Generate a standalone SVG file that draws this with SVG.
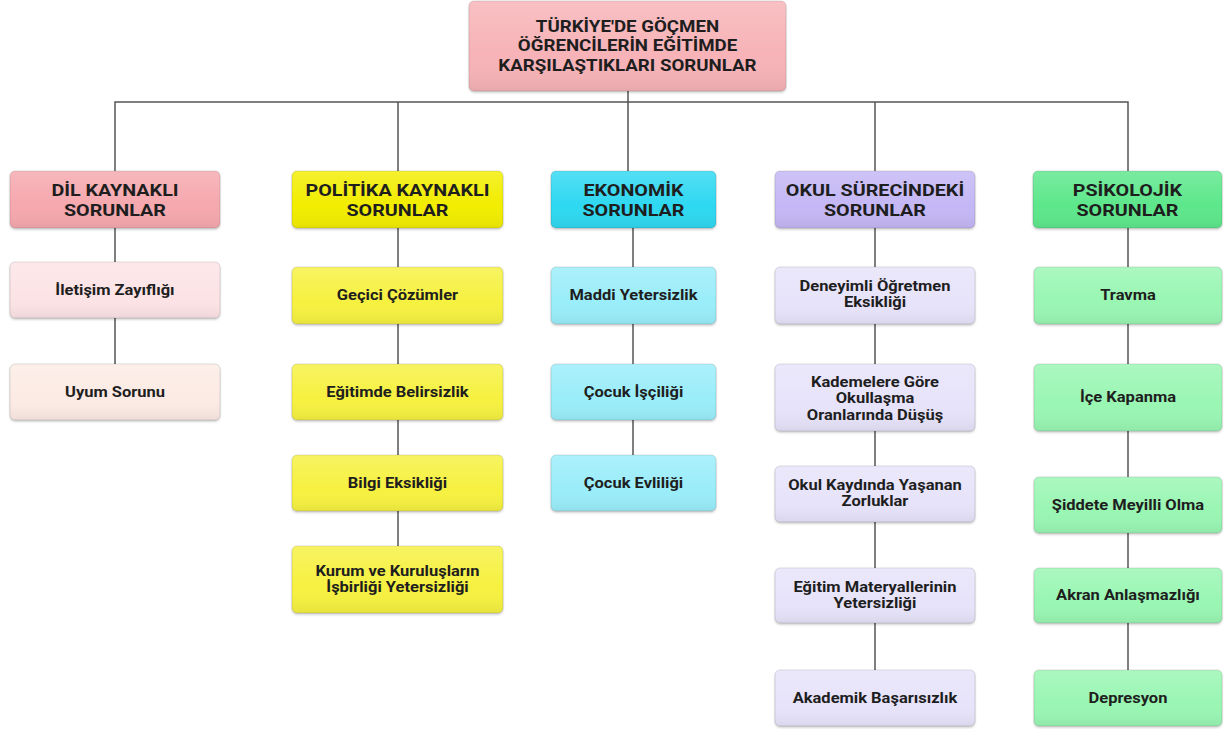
<svg xmlns="http://www.w3.org/2000/svg" width="1231" height="729" viewBox="0 0 1231 729">
<defs>
  <filter id="sh" x="-10%" y="-20%" width="120%" height="150%">
    <feDropShadow dx="0" dy="1.5" stdDeviation="1.2" flood-color="#000" flood-opacity="0.22"/>
  </filter>
  <linearGradient id="sheen" x1="0" y1="0" x2="0" y2="1">
    <stop offset="0" stop-color="#fff" stop-opacity="0.18"/>
    <stop offset="0.6" stop-color="#fff" stop-opacity="0"/>
    <stop offset="1" stop-color="#000" stop-opacity="0.06"/>
  </linearGradient>
</defs>
<style>
  .box { stroke: rgba(0,0,0,0.12); stroke-width: 1; filter: url(#sh); }
  .sheen { fill: url(#sheen); stroke: none; }
  text { font-family: Roboto, "Liberation Sans", sans-serif; font-weight: 700; fill: #1e1e1e; text-anchor: middle; transform-box: fill-box; transform-origin: center; transform: scaleX(1.1); }
  .t0 { font-size: 17px; }
  .t1 { font-size: 17px; transform: scaleX(1.16); }
  .t2 { font-size: 15px; }
  .c-title { fill: #F7B3B7; }
  .c-dil { fill: #F5A8AE; }
  .c-dil1 { fill: #FCE3E6; }
  .c-dil2 { fill: #FCEBE4; }
  .c-pol { fill: #F2ED00; }
  .c-pol1 { fill: #F6F140; }
  .c-eko { fill: #2ED8F1; }
  .c-eko1 { fill: #9AEDFA; }
  .c-okul { fill: #C4B7F5; }
  .c-okul1 { fill: #E7E3FA; }
  .c-psi { fill: #5DE78B; }
  .c-psi1 { fill: #99F6B3; }
  .conn { stroke: #555; stroke-width: 1.5; fill: none; }
</style>
<rect width="1231" height="729" fill="#fff"/>

<g id="connectors">
  <path class="conn" d="M628 91 V102"/>
  <path class="conn" d="M115 171 V102 H1128 V171"/>
  <path class="conn" d="M398 102 V171"/>
  <path class="conn" d="M628 102 V171"/>
  <path class="conn" d="M875 102 V171"/>
  <path class="conn" d="M115 228 V262 M115 318 V364"/>
  <path class="conn" d="M398 228 V267 M398 324 V364 M398 420 V455 M398 511 V546"/>
  <path class="conn" d="M633 228 V267 M633 324 V364 M633 420 V455"/>
  <path class="conn" d="M875 228 V267 M875 324 V364 M875 431 V466 M875 522 V568 M875 623 V670"/>
  <path class="conn" d="M1128 228 V267 M1128 324 V364 M1128 431 V477 M1128 533 V568 M1128 623 V670"/>
</g>

<g id="title">
  <rect class="box c-title" x="469" y="1" width="317" height="90" rx="5"/>
  <rect class="sheen" x="469" y="1" width="317" height="90" rx="5"/>
  <text class="t0" x="627.5" y="32">TÜRKİYE'DE GÖÇMEN</text>
  <text class="t0" x="627.5" y="51.5">ÖĞRENCİLERİN EĞİTİMDE</text>
  <text class="t0" x="627.5" y="71">KARŞILAŞTIKLARI SORUNLAR</text>
</g>

<!-- DİL -->
<g id="dil">
  <rect class="box c-dil" x="10" y="171" width="210" height="57" rx="5"/>
  <rect class="sheen" x="10" y="171" width="210" height="57" rx="5"/>
  <text class="t1" x="115" y="196.5">DİL KAYNAKLI</text>
  <text class="t1" x="115" y="216">SORUNLAR</text>
</g>
<g id="dil-iletisim">
  <rect class="box c-dil1" x="10" y="262" width="210" height="56" rx="5"/>
  <rect class="sheen" x="10" y="262" width="210" height="56" rx="5"/>
  <text class="t2" x="115" y="295.5">İletişim Zayıflığı</text>
</g>
<g id="dil-uyum">
  <rect class="box c-dil2" x="10" y="364" width="210" height="56" rx="5"/>
  <rect class="sheen" x="10" y="364" width="210" height="56" rx="5"/>
  <text class="t2" x="115" y="397">Uyum Sorunu</text>
</g>

<!-- POLİTİKA -->
<g id="politika">
  <rect class="box c-pol" x="292" y="171" width="211" height="57" rx="5"/>
  <rect class="sheen" x="292" y="171" width="211" height="57" rx="5"/>
  <text class="t1" x="397.5" y="196.5">POLİTİKA KAYNAKLI</text>
  <text class="t1" x="397.5" y="216">SORUNLAR</text>
</g>
<g id="pol-gecici">
  <rect class="box c-pol1" x="292" y="267" width="211" height="57" rx="5"/>
  <rect class="sheen" x="292" y="267" width="211" height="57" rx="5"/>
  <text class="t2" x="397.5" y="300.5">Geçici Çözümler</text>
</g>
<g id="pol-belirsizlik">
  <rect class="box c-pol1" x="292" y="364" width="211" height="56" rx="5"/>
  <rect class="sheen" x="292" y="364" width="211" height="56" rx="5"/>
  <text class="t2" x="397.5" y="397">Eğitimde Belirsizlik</text>
</g>
<g id="pol-bilgi">
  <rect class="box c-pol1" x="292" y="455" width="211" height="56" rx="5"/>
  <rect class="sheen" x="292" y="455" width="211" height="56" rx="5"/>
  <text class="t2" x="397.5" y="488">Bilgi Eksikliği</text>
</g>
<g id="pol-kurum">
  <rect class="box c-pol1" x="292" y="546" width="211" height="67" rx="5"/>
  <rect class="sheen" x="292" y="546" width="211" height="67" rx="5"/>
  <text class="t2" x="397.5" y="576">Kurum ve Kuruluşların</text>
  <text class="t2" x="397.5" y="592.5">İşbirliği Yetersizliği</text>
</g>

<!-- EKONOMİK -->
<g id="ekonomik">
  <rect class="box c-eko" x="551" y="171" width="165" height="57" rx="5"/>
  <rect class="sheen" x="551" y="171" width="165" height="57" rx="5"/>
  <text class="t1" x="633.5" y="196.5">EKONOMİK</text>
  <text class="t1" x="633.5" y="216">SORUNLAR</text>
</g>
<g id="eko-maddi">
  <rect class="box c-eko1" x="551" y="267" width="165" height="57" rx="5"/>
  <rect class="sheen" x="551" y="267" width="165" height="57" rx="5"/>
  <text class="t2" x="633.5" y="300.5">Maddi Yetersizlik</text>
</g>
<g id="eko-iscilik">
  <rect class="box c-eko1" x="551" y="364" width="165" height="56" rx="5"/>
  <rect class="sheen" x="551" y="364" width="165" height="56" rx="5"/>
  <text class="t2" x="633.5" y="397">Çocuk İşçiliği</text>
</g>
<g id="eko-evlilik">
  <rect class="box c-eko1" x="551" y="455" width="165" height="56" rx="5"/>
  <rect class="sheen" x="551" y="455" width="165" height="56" rx="5"/>
  <text class="t2" x="633.5" y="488">Çocuk Evliliği</text>
</g>

<!-- OKUL -->
<g id="okul">
  <rect class="box c-okul" x="775" y="171" width="200" height="57" rx="5"/>
  <rect class="sheen" x="775" y="171" width="200" height="57" rx="5"/>
  <text class="t1" x="875" y="196.5">OKUL SÜRECİNDEKİ</text>
  <text class="t1" x="875" y="216">SORUNLAR</text>
</g>
<g id="okul-ogretmen">
  <rect class="box c-okul1" x="775" y="267" width="200" height="57" rx="5"/>
  <rect class="sheen" x="775" y="267" width="200" height="57" rx="5"/>
  <text class="t2" x="875" y="291">Deneyimli Öğretmen</text>
  <text class="t2" x="875" y="307">Eksikliği</text>
</g>
<g id="okul-kademe">
  <rect class="box c-okul1" x="775" y="364" width="200" height="67" rx="5"/>
  <rect class="sheen" x="775" y="364" width="200" height="67" rx="5"/>
  <text class="t2" x="875" y="387">Kademelere Göre</text>
  <text class="t2" x="875" y="403.5">Okullaşma</text>
  <text class="t2" x="875" y="420">Oranlarında Düşüş</text>
</g>
<g id="okul-kayit">
  <rect class="box c-okul1" x="775" y="466" width="200" height="56" rx="5"/>
  <rect class="sheen" x="775" y="466" width="200" height="56" rx="5"/>
  <text class="t2" x="875" y="490">Okul Kaydında Yaşanan</text>
  <text class="t2" x="875" y="506">Zorluklar</text>
</g>
<g id="okul-materyal">
  <rect class="box c-okul1" x="775" y="568" width="200" height="55" rx="5"/>
  <rect class="sheen" x="775" y="568" width="200" height="55" rx="5"/>
  <text class="t2" x="875" y="592">Eğitim Materyallerinin</text>
  <text class="t2" x="875" y="608">Yetersizliği</text>
</g>
<g id="okul-akademik">
  <rect class="box c-okul1" x="775" y="670" width="200" height="56" rx="5"/>
  <rect class="sheen" x="775" y="670" width="200" height="56" rx="5"/>
  <text class="t2" x="875" y="703">Akademik Başarısızlık</text>
</g>

<!-- PSİKOLOJİK -->
<g id="psikolojik">
  <rect class="box c-psi" x="1033" y="171" width="189" height="57" rx="5"/>
  <rect class="sheen" x="1033" y="171" width="189" height="57" rx="5"/>
  <text class="t1" x="1127.5" y="196.5">PSİKOLOJİK</text>
  <text class="t1" x="1127.5" y="216">SORUNLAR</text>
</g>
<g id="psi-travma">
  <rect class="box c-psi1" x="1034" y="267" width="188" height="57" rx="5"/>
  <rect class="sheen" x="1034" y="267" width="188" height="57" rx="5"/>
  <text class="t2" x="1128" y="300.5">Travma</text>
</g>
<g id="psi-icekapanma">
  <rect class="box c-psi1" x="1034" y="364" width="188" height="67" rx="5"/>
  <rect class="sheen" x="1034" y="364" width="188" height="67" rx="5"/>
  <text class="t2" x="1128" y="402.5">İçe Kapanma</text>
</g>
<g id="psi-siddet">
  <rect class="box c-psi1" x="1034" y="477" width="188" height="56" rx="5"/>
  <rect class="sheen" x="1034" y="477" width="188" height="56" rx="5"/>
  <text class="t2" x="1128" y="510">Şiddete Meyilli Olma</text>
</g>
<g id="psi-akran">
  <rect class="box c-psi1" x="1034" y="568" width="188" height="55" rx="5"/>
  <rect class="sheen" x="1034" y="568" width="188" height="55" rx="5"/>
  <text class="t2" x="1128" y="600.5">Akran Anlaşmazlığı</text>
</g>
<g id="psi-depresyon">
  <rect class="box c-psi1" x="1034" y="670" width="188" height="56" rx="5"/>
  <rect class="sheen" x="1034" y="670" width="188" height="56" rx="5"/>
  <text class="t2" x="1128" y="703">Depresyon</text>
</g>
</svg>
